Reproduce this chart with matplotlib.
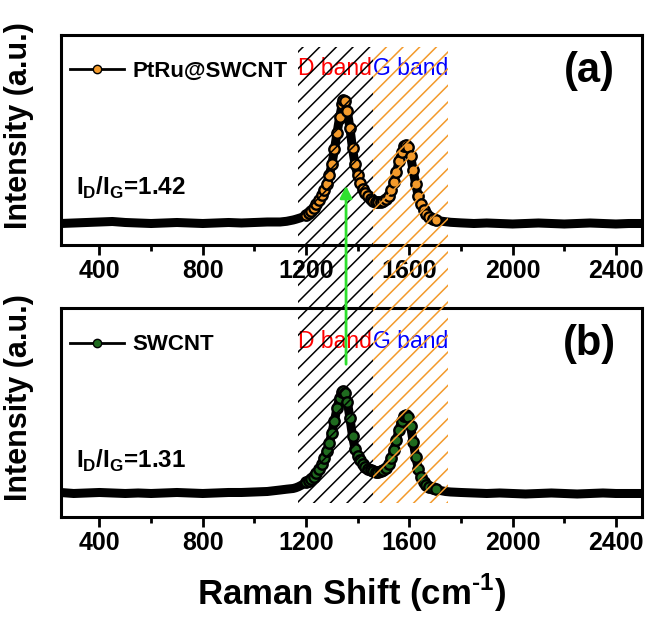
import matplotlib
matplotlib.use('Agg')
import matplotlib.pyplot as plt
import matplotlib.transforms as mtransforms
from matplotlib.patches import Rectangle, FancyArrowPatch
from matplotlib.lines import Line2D
from matplotlib.ticker import MultipleLocator
import numpy as np

plt.rcParams['font.family'] = ['Liberation Sans', 'DejaVu Sans']
plt.rcParams['mathtext.fontset'] = 'custom'
plt.rcParams['mathtext.rm'] = 'Liberation Sans:bold'
plt.rcParams['mathtext.bf'] = 'Liberation Sans:bold'
plt.rcParams['hatch.linewidth'] = 1.1

# Raman spectra (a.u.)
shift_a = [250, 300, 350, 400, 450, 500, 550, 600, 650, 700, 750, 800, 850, 900, 950,
           1000, 1050, 1100, 1125,
           1150, 1160, 1170, 1180, 1190, 1200, 1210, 1220, 1230, 1240, 1250, 1260,
           1270, 1280, 1290, 1300, 1310, 1320, 1330, 1340, 1345, 1350, 1360, 1370,
           1380, 1390, 1400, 1410, 1420, 1430, 1440, 1450, 1460, 1470, 1480, 1490,
           1500, 1510, 1520, 1530, 1540, 1550, 1560, 1570, 1580, 1587, 1595, 1605,
           1615, 1625, 1635, 1645, 1655, 1665, 1675, 1690, 1705, 1720, 1740, 1760,
           1800, 1850, 1900, 1950, 2000, 2050, 2100, 2150, 2200, 2250, 2300, 2350,
           2400, 2450, 2500]
int_a = [290, 295, 300, 305, 310, 300, 295, 290, 295, 300, 295, 290, 295, 300, 295,
         300, 305, 305, 312,
         325, 332, 340, 348, 360, 378, 395, 418, 445, 480, 520, 570,
         625, 685, 770, 880, 1030, 1195, 1350, 1480, 1525, 1510, 1410, 1245,
         1040, 880, 770, 690, 630, 590, 560, 535, 515, 505, 500, 503,
         512, 530, 565, 620, 700, 800, 910, 1000, 1060, 1075, 1050, 960,
         820, 680, 560, 480, 420, 380, 355, 335, 322, 315, 308, 302,
         296, 290, 295, 290, 285, 290, 295, 290, 285, 290, 295, 290,
         285, 290, 290]

shift_b = [250, 300, 350, 400, 450, 500, 550, 600, 650, 700, 750, 800, 850, 900, 950,
           1000, 1050, 1100, 1125,
           1150, 1160, 1170, 1180, 1190, 1200, 1210, 1220, 1230, 1240, 1250, 1260,
           1270, 1280, 1290, 1300, 1310, 1320, 1330, 1340, 1345, 1350, 1360, 1370,
           1380, 1390, 1400, 1410, 1420, 1430, 1440, 1450, 1460, 1470, 1480, 1490,
           1500, 1510, 1520, 1530, 1540, 1550, 1560, 1570, 1580, 1587, 1595, 1605,
           1615, 1625, 1635, 1645, 1655, 1665, 1675, 1690, 1705, 1720, 1740, 1760,
           1800, 1850, 1900, 1950, 2000, 2050, 2100, 2150, 2200, 2250, 2300, 2350,
           2400, 2450, 2500]
int_b = [15, 5, 10, 15, 10, 5, 10, 5, 10, 15, 10, 5, 10, 15, 15,
         20, 25, 40, 48,
         55, 62, 72, 85, 100, 115, 130, 150, 172, 205, 245, 295,
         355, 430, 510, 610, 730, 860, 960, 1025, 1035, 1015, 925, 760,
         580, 450, 380, 335, 300, 270, 248, 235, 226, 222, 222, 228,
         240, 262, 300, 360, 440, 540, 640, 730, 780, 790, 770, 680,
         520, 370, 250, 170, 120, 90, 72, 58, 45, 35, 25, 20,
         15, 10, 5, 10, 5, 0, 5, 10, 5, 0, 5, 10,
         5, 5, 5]

ratio_a = 1.42
ratio_b = 1.31

d_band = (1170, 1460)
g_band = (1460, 1750)

fig = plt.figure(figsize=(6.48, 6.19), dpi=100)
ax1 = fig.add_axes([0.0937, 0.6042, 0.8966, 0.3393])
ax2 = fig.add_axes([0.0937, 0.1648, 0.8966, 0.3376])

panels = [
    (ax1, shift_a, int_a, '#f39a2b', 'PtRu@SWCNT', ratio_a, '(a)', (75, 2175)),
    (ax2, shift_b, int_b, '#1f6b1f', 'SWCNT', ratio_b, '(b)', (-230, 1860)),
]

for ax, x, y, fc, name, ratio, tag, ylim in panels:
    x = np.array(x)
    mark = (x >= 1200) & (x <= 1705)
    ax.plot(x, y, color='black', lw=6.5, solid_capstyle='butt',
            marker='o', ms=7.5, mfc=fc, mec='black', mew=1.7,
            markevery=list(mark), zorder=3)
    ax.set_xlim(250, 2500)
    ax.set_ylim(*ylim)
    ax.xaxis.set_minor_locator(MultipleLocator(200))
    ax.set_xticks([400, 800, 1200, 1600, 2000, 2400])
    ax.set_yticks([])
    ax.tick_params(axis='x', which='major', direction='out', length=7, width=2,
                   labelsize=18, pad=3)
    ax.tick_params(axis='x', which='minor', direction='out', length=4, width=2)
    for lbl in ax.get_xticklabels():
        lbl.set_fontweight('bold')
    for s in ax.spines.values():
        s.set_linewidth(2.2)
    ax.set_ylabel('Intensity (a.u.)', fontsize=22, fontweight='bold')
    ax.yaxis.set_label_coords(-0.046, 0.57)

    handle = Line2D([], [], color='black', lw=2, marker='o', ms=6,
                    mfc=fc, mec='black', mew=1)
    ax.legend([handle], [name], loc='upper left', frameon=False,
              bbox_to_anchor=(-0.018, 0.97), handlelength=2.4, handletextpad=0.4,
              prop={'size': 16, 'weight': 'bold'})

    ax.text(0.91, 0.83, tag, transform=ax.transAxes, ha='center', va='center',
            fontsize=30, fontweight='bold')
    ax.text(0.027, 0.27, r'I$_\mathbf{D}$/I$_\mathbf{G}$=%.2f' % ratio,
            transform=ax.transAxes, ha='left', va='center', fontsize=17.5,
            fontweight='bold')
    ax.text(d_band[0], 0.84, 'D band', transform=ax.get_xaxis_transform(),
            color='red', fontsize=16.5, ha='left', va='center', zorder=5)
    ax.text(g_band[0], 0.84, 'G band', transform=ax.get_xaxis_transform(),
            color='blue', fontsize=16.5, ha='left', va='center', zorder=5)

ax2.set_xlabel(r'Raman Shift (cm$^{\text{-1}}$)', fontsize=25, fontweight='bold',
               labelpad=12)

# hatched band regions spanning both panels
blend = mtransforms.blended_transform_factory(ax1.transData, fig.transFigure)
y0, y1 = 0.187, 0.924
fig.add_artist(Rectangle((d_band[0], y0), d_band[1] - d_band[0], y1 - y0,
                         transform=blend, fill=False, hatch='//',
                         edgecolor='black', lw=0))
fig.add_artist(Rectangle((g_band[0], y0), g_band[1] - g_band[0], y1 - y0,
                         transform=blend, fill=False, hatch='//',
                         edgecolor='#f39a2b', lw=0))

# arrow from D band of (b) up to (a)
fig.add_artist(FancyArrowPatch((1355, 1 - 367 / 619), (1355, 1 - 183 / 619),
                               transform=blend, arrowstyle='-|>',
                               mutation_scale=18, color='#2ee02e', lw=2))

fig.savefig('out.png', dpi=100)
